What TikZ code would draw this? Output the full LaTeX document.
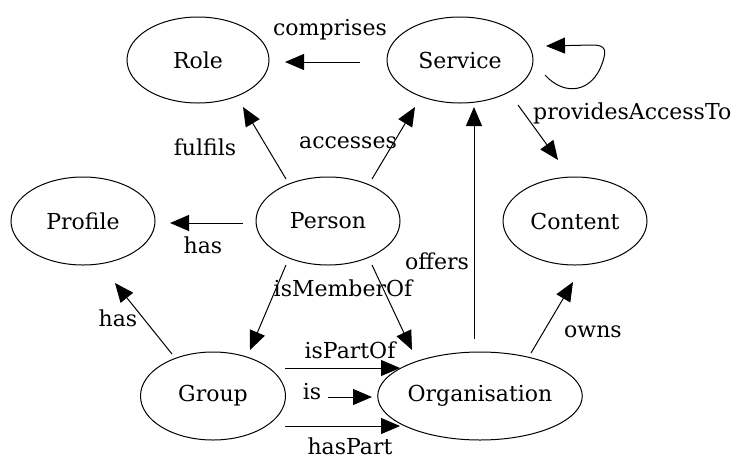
\documentclass[tikz,border=0pt]{standalone}
\usepackage{fontspec}
\setmainfont{DejaVu Serif}
\usetikzlibrary{shapes.geometric,arrows.meta}
\tikzset{
  ent/.style={ellipse, draw, line width=1pt, inner sep=0pt, font=\fontsize{22}{25}\selectfont},
  lbl/.style={inner sep=0pt, font=\fontsize{22}{25}\selectfont},
  arr/.style={line width=1pt, -{Triangle[length=19pt,width=16pt]}},
}
\begin{document}
\begin{tikzpicture}[x=1pt,y=-1pt]
\useasboundingbox (0,0) rectangle (739,459);
% entities
\node[ent, minimum width=142pt, minimum height=86pt] (role) at (198,60) {Role};
\node[ent, minimum width=146pt, minimum height=86pt] (service) at (460,60) {Service};
\node[ent, minimum width=144pt, minimum height=88pt] (profile) at (83,221) {Profile};
\node[ent, minimum width=144pt, minimum height=88pt] (person) at (328,221) {Person};
\node[ent, minimum width=144pt, minimum height=88pt] (content) at (575,221) {Content};
\node[ent, minimum width=145pt, minimum height=88pt] (group) at (213,396) {Group};
\node[ent, minimum width=186pt, minimum height=88pt] (org) at (480,396) {Organisation};
% connectors
\draw[arr] ([shift={(-100,2)}]service.center) -- ([shift={(87,2)}]role.center);
\draw[arr] ([shift={(85,15)}]service.center) .. controls (565,97) and (592,92) .. (602,64)
  .. controls (607,50) and (606,45) .. (592,45) -- ([shift={(86,-14)}]service.center);
\draw[arr] ([shift={(58,45)}]service.center) -- ([shift={(-17,-61)}]content.center);
\draw[arr] ([shift={(-42,-42)}]person.center) -- ([shift={(45,47)}]role.center);
\draw[arr] ([shift={(44,-42)}]person.center) -- ([shift={(-45,47)}]service.center);
\draw[arr] ([shift={(-85,2)}]person.center) -- ([shift={(87,2)}]profile.center);
\draw[arr] ([shift={(-42,44)}]person.center) -- ([shift={(37,-46)}]group.center);
\draw[arr] ([shift={(44,44)}]person.center) -- ([shift={(-68,-46)}]org.center);
\draw[arr] ([shift={(-41,-42)}]group.center) -- ([shift={(32,62)}]profile.center);
\draw[arr] ([shift={(-6,-57)}]org.center) -- ([shift={(14,47)}]service.center);
\draw[arr] ([shift={(51,-43)}]org.center) -- ([shift={(-2,61)}]content.center);
\draw[arr] ([shift={(72,-28)}]group.center) -- ([shift={(-80,-28)}]org.center);
\draw[arr] ([shift={(115,1)}]group.center) -- ([shift={(-108,1)}]org.center);
\draw[arr] ([shift={(72,30)}]group.center) -- ([shift={(-80,30)}]org.center);
% labels
\node[lbl] (lcomprises) at (330,30) {comprises};
\node[lbl, anchor=west] (lprov) at (533,113) {providesAccessTo};
\node[lbl] (lfulfils) at (205,147) {fulfils};
\node[lbl] (laccesses) at (348,143) {accesses};
\node[lbl] (lhas) at (203,245) {has};
\node[lbl] (lmember) at (343,288) {isMemberOf};
\node[lbl] (loffers) at (437,261) {offers};
\node[lbl] (lhas2) at (118,318) {has};
\node[lbl] (lowns) at (593,332) {owns};
\node[lbl] (lpartof) at (350,350) {isPartOf};
\node[lbl] (lis) at (312,392) {is};
\node[lbl] (lhaspart) at (350,446) {hasPart};
\end{tikzpicture}
\end{document}
